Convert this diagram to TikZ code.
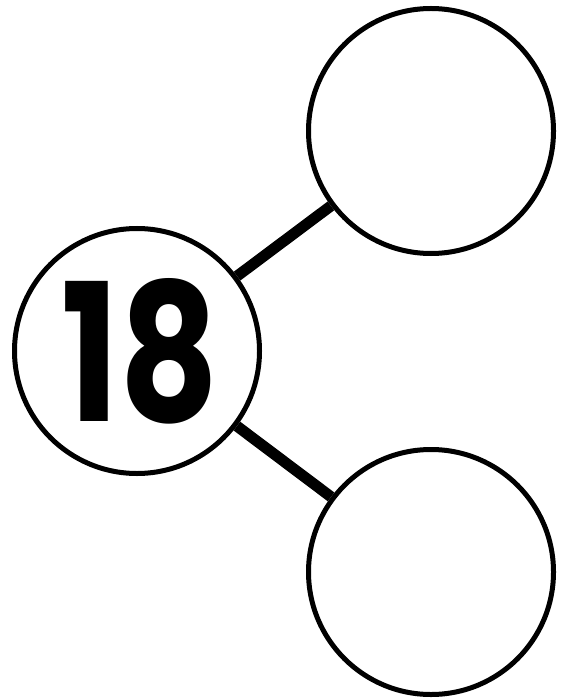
\documentclass[tikz,border=0pt]{standalone}
\usepackage{fontspec}
\setmainfont{Poppins}
\begin{document}
\begin{tikzpicture}[x=1pt,y=-1pt,
  bubble/.style={circle,draw=black,line width=5pt,minimum size=245pt,inner sep=0pt,fill=white},
  link/.style={line width=11pt,draw=black},
  numeral/.style={font=\fontsize{192}{192}\selectfont\bfseries, inner sep=0pt, xscale=0.8}]
\useasboundingbox (0,0) rectangle (563,700);
\node[bubble] (whole) at (137,351) {};
\node[bubble] (top) at (431,131) {};
\node[bubble] (bot) at (431,572) {};
\draw[link] (whole) -- (top);
\draw[link] (whole) -- (bot);
\node[numeral] (num) at (140,351) {18};
\end{tikzpicture}
\end{document}
